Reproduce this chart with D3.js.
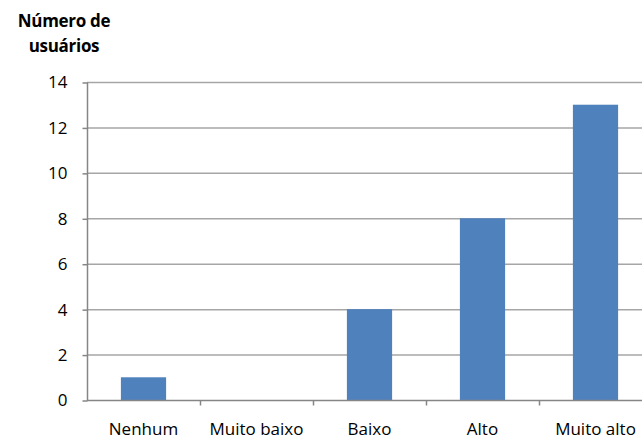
<!DOCTYPE html>
<html><head><meta charset="utf-8">
<script src="https://cdn.jsdelivr.net/npm/d3@7"></script>
<style>body{margin:0;background:#fff}svg{display:block}</style>
</head><body>
<svg id="c" width="642" height="438"></svg>
<script>
const categories = ["Nenhum","Muito baixo","Baixo","Alto","Muito alto"];
const values = [1,0,4,8,13];
const yTicks = [0,2,4,6,8,10,12,14];
const titleLines = ["Número de","usuários"];

const svg = d3.select("#c");
const font = "'Open Sans', sans-serif";
const x = d3.scaleBand().domain(categories).range([87,652]).padding(0);
const y = d3.scaleLinear().domain([0,14]).range([400,82]);

// gridlines
svg.append("g").selectAll("line").data(yTicks.filter(d=>d>0)).join("line")
  .attr("x1",87).attr("x2",642).attr("y1",d=>y(d)+0.5).attr("y2",d=>y(d)+0.5)
  .attr("stroke","#a6a6a6").attr("stroke-width",1.5);

// bars
const bw = x.bandwidth()*0.4;
svg.append("g").selectAll("rect").data(values).join("rect")
  .attr("x",(d,i)=>x(categories[i])+x.bandwidth()/2-bw/2)
  .attr("width",bw)
  .attr("y",d=>y(d)).attr("height",d=>y(0)-y(d))
  .attr("fill","#4f81bd");

// y axis
const ya = svg.append("g").attr("transform","translate(87.5,0.5)")
  .call(d3.axisLeft(y).tickValues(yTicks).tickSize(5).tickPadding(15));
ya.select(".domain").attr("stroke","#868686").attr("stroke-width",1.5).attr("d","M-0,82V400");
ya.selectAll(".tick line").attr("stroke","#868686").attr("stroke-width",1.5);
ya.selectAll("text").attr("font-family",font).attr("font-size",17).attr("fill","#000");

// x axis
const xa = svg.append("g").attr("transform","translate(0,400.5)");
xa.append("line").attr("x1",87).attr("x2",642).attr("stroke","#868686").attr("stroke-width",1.5);
xa.selectAll(".tk").data(categories.slice(1)).join("line").attr("class","tk")
  .attr("x1",d=>x(d)+0.5).attr("x2",d=>x(d)+0.5).attr("y1",0).attr("y2",5)
  .attr("stroke","#868686").attr("stroke-width",1.5);
xa.selectAll("text").data(categories).join("text")
  .attr("x",d=>x(d)+x.bandwidth()/2).attr("y",34)
  .attr("text-anchor","middle").attr("font-family",font).attr("font-size",17).attr("fill","#000")
  .text(d=>d);

// title
svg.append("g").selectAll("text").data(titleLines).join("text")
  .attr("x",64).attr("y",(d,i)=>27+i*25).attr("text-anchor","middle")
  .attr("font-family",font).attr("font-weight","bold").attr("font-size",17).attr("fill","#000")
  .attr("letter-spacing",-0.3)
  .text(d=>d);
</script>
</body></html>
